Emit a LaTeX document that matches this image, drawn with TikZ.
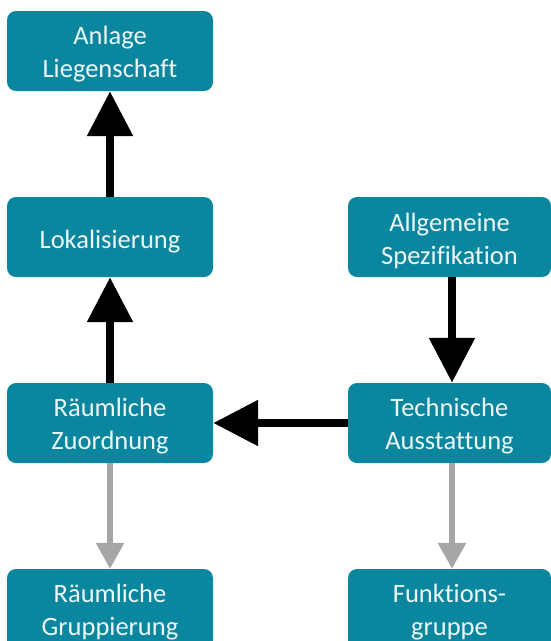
\documentclass[tikz,border=0pt]{standalone}
\usepackage{fontspec}
\setmainfont[Ligatures={NoCommon}]{Carlito}
\usetikzlibrary{arrows.meta}
\definecolor{boxteal}{HTML}{0A879F}
\definecolor{boxtext}{HTML}{EEF7F8}
\definecolor{lightarrow}{HTML}{A6A6A6}
\tikzset{
  box/.style={fill=boxteal, draw=none, rounded corners=9pt,
    minimum height=80pt, inner sep=0pt},
  % the caption sits a little below the box centre
  caption/.style={align=center, inner sep=0pt, yshift=-3.5pt,
    text=boxtext, font=\fontsize{26.5}{33}\selectfont},
  leftbox/.style={box, minimum width=206pt},
  rightbox/.style={box, minimum width=203pt},
  mainflow/.style={line width=8.7pt, black,
    -{Triangle[length=45pt, width=44pt]}},
  sideflow/.style={line width=6pt, lightarrow,
    -{Triangle[length=26pt, width=27pt]}}
}
\begin{document}
\begin{tikzpicture}[x=1pt, y=-1pt]
  \useasboundingbox (0,0) rectangle (550,641);

  % left column
  \node[leftbox, label={[caption]center:{Anlage\\Liegenschaft}}] (anlage) at (110,51) {};
  \node[leftbox, label={[caption, yshift=-1.5pt]center:{Lokalisierung}}] (lokal) at (110,237) {};
  \node[leftbox, label={[caption]center:{Räumliche\\Zuordnung}}] (zuord) at (110,423) {};
  \node[leftbox, label={[caption]center:{Räumliche\\Gruppierung}}] (grupp) at (110,609) {};

  % right column
  \node[rightbox, label={[caption]center:{Allgemeine\\Spezifikation}}] (allg) at (449.5,237) {};
  \node[rightbox, label={[caption]center:{Technische\\Ausstattung}}] (tech) at (449.5,423) {};
  \node[rightbox, label={[caption]center:{Funktions-\\gruppe}}] (funk) at (449.5,609) {};

  % main dependencies
  \draw[mainflow] (lokal.north) -- (anlage.south);
  \draw[mainflow] (zuord.north) -- (lokal.south);
  \draw[mainflow] ([xshift=2.5pt]allg.south) -- ([xshift=2.5pt]tech.north);
  \draw[mainflow] (tech.west) -- (zuord.east);

  % secondary dependencies
  \draw[sideflow] (zuord.south) -- (grupp.north);
  \draw[sideflow] ([xshift=2.5pt]tech.south) -- ([xshift=2.5pt]funk.north);
\end{tikzpicture}
\end{document}
